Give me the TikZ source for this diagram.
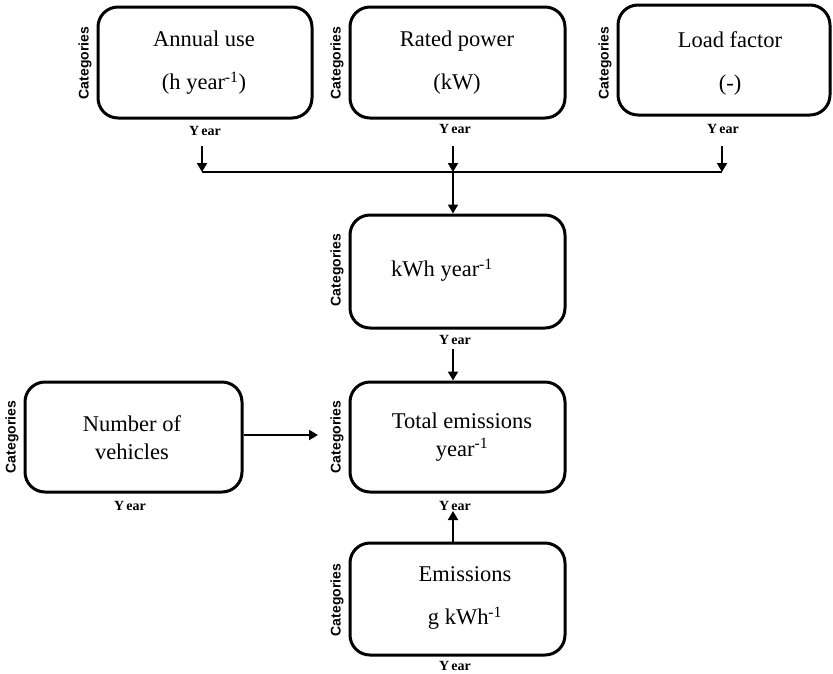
\documentclass[tikz,border=0pt]{standalone}
\usepackage{fontspec}
\setmainfont{Liberation Serif}
\newfontfamily\catfont{Liberation Sans}
\usetikzlibrary{arrows.meta}
\begin{document}
\begin{tikzpicture}[x=1pt,y=-1pt,
  box/.style={draw, line width=3pt, rounded corners=20pt, minimum width=214pt, minimum height=111pt, inner sep=0pt},
  txt/.style={align=center, font=\fontsize{22.5}{43}\selectfont, inner sep=0pt},
  txtn/.style={align=center, font=\fontsize{22.5}{28}\selectfont, inner sep=0pt},
  cat/.style={rotate=90, font=\catfont\bfseries\fontsize{14}{14}\selectfont, inner sep=0pt},
  yr/.style={font=\bfseries\fontsize{14}{14}\selectfont, inner sep=0pt},
  arr/.style={line width=2pt, -{Triangle[width=10pt,length=9pt]}},
  ln/.style={line width=2pt}]
\useasboundingbox (0,0) rectangle (833,673);
% boxes
\node[box] (annual) at (205,62.5) {};
\node[box, minimum width=215pt] (rated) at (457.5,62.5) {};
\node[box, minimum width=212pt, minimum height=110pt] (load) at (724,60) {};
\node[box, minimum width=215pt, minimum height=113pt] (kwh) at (457.5,271.5) {};
\node[box, minimum width=217pt, minimum height=110pt] (veh) at (133.5,437) {};
\node[box, minimum width=215pt, minimum height=110pt] (total) at (457.5,437) {};
\node[box, minimum width=215pt, minimum height=112pt] (emis) at (457.5,599) {};
% texts
\node[txt] (annualt) at (204,63) {Annual use\\(h year\textsuperscript{-1})};
\node[txt] (ratedt) at (457,63) {Rated power\\(kW)};
\node[txt] (loadt) at (730,63) {Load factor\\(-)};
\node[txt] (kwht) at (442,270) {kWh year\textsuperscript{-1}};
\node[txtn] (veht) at (132,438) {Number of\\vehicles};
\node[txtn] (totalt) at (462,437) {Total emissions\\year\textsuperscript{-1}};
\node[txt] (emist) at (465,598) {Emissions\\g kWh\textsuperscript{-1}};
% categories labels
\node[cat] (c1) at (85,63) {Categories};
\node[cat] (c2) at (337,63) {Categories};
\node[cat] (c3) at (605,63) {Categories};
\node[cat] (c4) at (337,270) {Categories};
\node[cat] (c5) at (12,437) {Categories};
\node[cat] (c6) at (337,437) {Categories};
\node[cat] (c7) at (337,600) {Categories};
% year labels
\node[yr] (y1) at (205,131) {Y\kern2pt ear};
\node[yr] (y2) at (455,129) {Y\kern2pt ear};
\node[yr] (y3) at (723,129) {Y\kern2pt ear};
\node[yr] (y4) at (455,340) {Y\kern2pt ear};
\node[yr] (y5) at (130,506) {Y\kern2pt ear};
\node[yr] (y6) at (455,506) {Y\kern2pt ear};
\node[yr] (y7) at (455,666) {Y\kern2pt ear};
% connectors
\coordinate (s1) at (202,146);
\coordinate (s2) at (453,146);
\coordinate (s3) at (722,146);
\coordinate (jL) at (202,172);
\coordinate (jM) at (453,172);
\coordinate (jR) at (722,172);
\draw[ln] (jL) -- (jR);
\draw[arr] (s1) -- (jL);
\draw[arr] (s2) -- (jM);
\draw[arr] (s3) -- (jR);
\draw[arr] (jM) -- (jM |- kwh.north);
\coordinate (s4) at (453,349);
\draw[arr] (s4) -- (s4 |- total.north);
\coordinate (e1) at (318,435);
\draw[arr] (veh.east |- e1) -- (e1);
\coordinate (e2) at (453,511);
\draw[arr] (e2 |- emis.north) -- (e2);
\end{tikzpicture}
\end{document}
